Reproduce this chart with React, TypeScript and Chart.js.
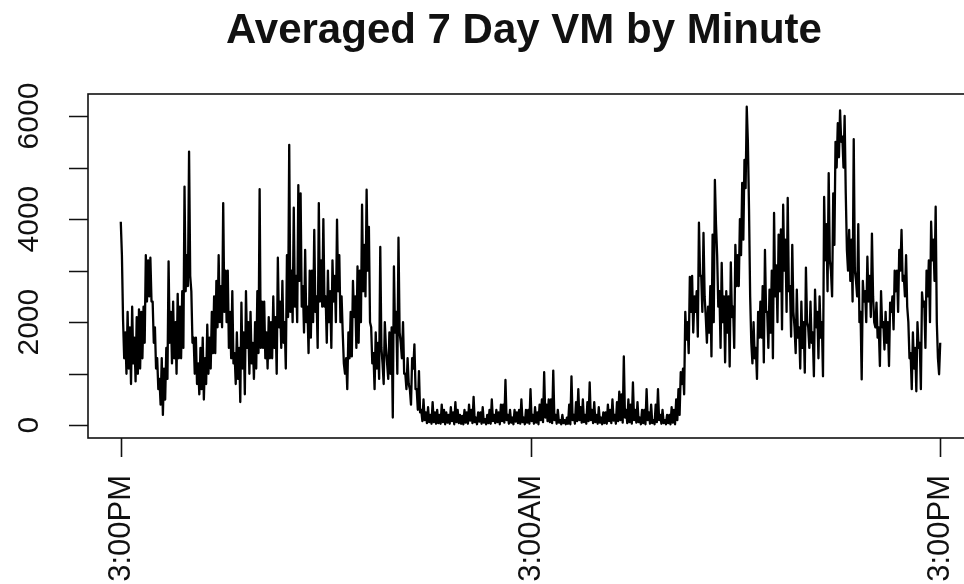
import React, { useEffect, useRef } from "react";
import { Chart, registerables } from "chart.js";

Chart.register(...registerables);

const TITLE = "Averaged 7 Day VM by Minute";
const STEP_MINUTES = 4;
const X_TICK_MINUTES = [0, 720, 1440];
const X_TICK_LABELS = ["3:00PM", "3:00AM", "3:00PM"];
const Y_TICKS = [0, 1000, 2000, 3000, 4000, 5000, 6000];
const Y_LABELS = [0, 2000, 4000, 6000];

// Averaged VM readings at minutes 0, 4, 8, ... (3:00PM to 3:00PM), upper side of the trace
const VM_A = [
  3950, 2050, 1800, 2200, 1900, 2300, 1700, 2100, 2250, 2200,
  2300, 3300, 3200, 3250, 2400, 1900, 1300, 900, 1300, 1100,
  1500, 3180, 2200, 2400, 2000, 2550, 2300, 2600, 4630, 3300,
  5310, 2600, 1700, 1700, 1200, 1500, 1700, 1300, 1950, 1700,
  2200, 2500, 2800, 3300, 2700, 4310, 3000, 3000, 2200, 2600,
  1400, 1800, 1500, 2380, 1800, 2600, 2000, 2200, 1600, 2000,
  2600, 4580, 2400, 2400, 1800, 2100, 2000, 2500, 2100, 3250,
  2400, 2800, 2000, 3300, 5440, 3000, 4220, 2900, 4660, 4500,
  2700, 3400, 2300, 3000, 3000, 3790, 2500, 4310, 3200, 4000,
  2500, 3000, 2600, 3200, 2900, 3990, 3300, 2500, 1200, 1300,
  1800, 2200, 2800, 2500, 3080, 3000, 4280, 3500, 4570, 3850,
  1900, 1400, 1800, 1600, 3460, 1200, 2000, 1200, 1800, 1900,
  3080, 2200, 3640, 1600, 2000, 1000, 1300, 700, 1300, 1570,
  700, 1050, 300, 500, 250, 350, 200, 450, 250, 300,
  200, 400, 300, 250, 200, 350, 250, 450, 300, 200,
  180, 300, 250, 400, 300, 550, 150, 250, 250, 350,
  120, 200, 300, 500, 200, 300, 250, 400, 400, 880,
  200, 300, 150, 300, 250, 300, 500, 150, 300, 300,
  700, 200, 350, 250, 400, 500, 1030, 400, 500, 500,
  1060, 200, 300, 100, 200, 100, 150, 400, 950, 200,
  450, 700, 350, 500, 200, 450, 830, 300, 450, 200,
  350, 150, 250, 250, 400, 300, 500, 200, 450, 650,
  600, 1335, 300, 500, 400, 830, 300, 450, 150, 300,
  300, 700, 250, 400, 100, 400, 700, 200, 300, 100,
  200, 200, 350, 300, 500, 700, 1030, 1100, 2200, 2000,
  2880, 2900, 2500, 2600, 3930, 2900, 3730, 2100, 2300, 2700,
  3700, 4760, 3300, 2600, 3150, 2500, 2600, 2500, 3160, 2300,
  3500, 3300, 4000, 4700, 5150, 6180, 4200, 1600, 2000, 1500,
  2200, 2400, 2700, 3400, 2200, 2630, 3000, 4120, 3100, 3700,
  3800, 4280, 3600, 4410, 2700, 3500, 1900, 2630, 1900, 2400,
  2000, 3060, 1900, 2400, 1800, 2630, 2200, 2500, 2000, 4430,
  3900, 4890, 3000, 4500, 5500, 5860, 6110, 5600, 6000, 3400,
  3790, 3600, 5550, 2800, 3900, 2200, 2800, 2600, 3270, 2900,
  3720, 2000, 2380, 1900, 2600, 2000, 2200, 2000, 2380, 2500,
  3000, 3000, 3400, 3790, 2900, 3300, 2000, 1400, 1800, 1500,
  2000, 1600, 2580, 2400, 3000, 3200, 3950, 3600, 4240, 1300,
  1600,
];
// Readings at minutes 2, 6, 10, ... , lower side of the trace
const VM_B = [
  3300, 1300, 1000, 1100, 800, 1200, 850, 1000, 1100, 1300,
  1600, 2400, 2500, 2400, 1600, 1100, 700, 400, 200, 500,
  900, 1600, 1200, 1300, 1000, 1300, 1300, 1500, 2600, 2700,
  2900, 1600, 1000, 800, 600, 700, 500, 800, 1000, 1100,
  1400, 1400, 1900, 2000, 1900, 2200, 2000, 1500, 1300, 1200,
  800, 900, 450, 1100, 600, 1500, 1000, 1200, 900, 1100,
  1400, 1500, 1500, 1300, 1100, 1300, 1300, 1500, 1000, 1900,
  1500, 1600, 1100, 2100, 2200, 2000, 2300, 2000, 2800, 2300,
  1800, 2000, 1400, 1700, 2000, 2200, 1500, 2400, 2300, 2300,
  1600, 2000, 1500, 2400, 2000, 2600, 2000, 1800, 1000, 700,
  1300, 1335, 2100, 1500, 1600, 2000, 2600, 2500, 3000, 2000,
  1200, 700, 1100, 900, 1500, 800, 1500, 900, 1000, 150,
  1800, 1000, 1800, 1300, 1000, 700, 800, 400, 1100, 700,
  300, 250, 80, 100, 40, 60, 30, 60, 30, 40,
  30, 60, 20, 50, 30, 80, 20, 60, 40, 30,
  20, 50, 30, 90, 40, 60, 20, 70, 30, 50,
  20, 40, 30, 80, 40, 60, 20, 80, 50, 100,
  30, 50, 20, 70, 40, 30, 60, 20, 50, 30,
  80, 30, 50, 20, 100, 60, 150, 80, 60, 40,
  100, 30, 50, 20, 40, 20, 30, 20, 100, 30,
  80, 100, 50, 60, 30, 80, 100, 40, 60, 30,
  50, 20, 40, 30, 80, 40, 90, 30, 80, 100,
  50, 150, 40, 60, 30, 100, 50, 60, 20, 40,
  20, 100, 30, 40, 20, 60, 100, 30, 40, 20,
  40, 20, 50, 20, 100, 200, 800, 600, 1660, 1400,
  2200, 1800, 2200, 1720, 2900, 2200, 2500, 1600, 1800, 1335,
  2000, 3900, 2300, 1500, 2000, 1220, 1800, 1140, 2100, 1500,
  2700, 2700, 3300, 3600, 4600, 5500, 2500, 1200, 1300, 900,
  1700, 1700, 1220, 2200, 1500, 1800, 1300, 2500, 2000, 2600,
  1860, 3000, 2200, 2600, 1720, 2200, 1400, 1700, 1100, 1500,
  1020, 2000, 1500, 1600, 950, 1900, 1300, 1700, 950, 3200,
  2600, 3200, 2500, 3500, 5000, 5200, 5500, 5000, 4500, 3000,
  2800, 2400, 3000, 2500, 2000, 890, 2400, 2000, 2400, 2100,
  2500, 1900, 1700, 1150, 1900, 1470, 1600, 1150, 2200, 1860,
  2600, 2200, 3000, 2800, 2500, 2300, 1300, 700, 1100, 660,
  1500, 700, 2300, 1500, 2500, 2000, 3200, 2800, 2000, 990,
];

const FONT = '"Liberation Sans", Arial, sans-serif';

const axesPlugin = {
  id: "rAxes",
  afterDraw(chart: any) {
    const { ctx, chartArea } = chart;
    const xs = chart.scales.x;
    const ys = chart.scales.y;
    ctx.save();
    ctx.strokeStyle = "#111";
    ctx.lineWidth = 1.6;
    ctx.strokeRect(chartArea.left, chartArea.top, chartArea.right - chartArea.left, chartArea.bottom - chartArea.top);
    ctx.fillStyle = "#111";
    ctx.beginPath();
    for (const v of Y_TICKS) {
      const y = Math.round(ys.getPixelForValue(v)) + 0.5;
      ctx.moveTo(chartArea.left - 19, y);
      ctx.lineTo(chartArea.left, y);
    }
    for (const m of X_TICK_MINUTES) {
      const x = Math.round(xs.getPixelForValue(m)) + 0.5;
      ctx.moveTo(x, chartArea.bottom);
      ctx.lineTo(x, chartArea.bottom + 19);
    }
    ctx.stroke();
    ctx.font = `30px ${FONT}`;
    ctx.textAlign = "center";
    ctx.textBaseline = "alphabetic";
    for (const v of Y_LABELS) {
      const y = ys.getPixelForValue(v);
      ctx.save();
      ctx.translate(38, y);
      ctx.rotate(-Math.PI / 2);
      ctx.fillText(String(v), 0, 0);
      ctx.restore();
    }
    ctx.font = `31px ${FONT}`;
    ctx.textAlign = "right";
    X_TICK_MINUTES.forEach((m, i) => {
      const x = xs.getPixelForValue(m);
      ctx.save();
      ctx.translate(x + 9, 475);
      ctx.rotate(-Math.PI / 2);
      ctx.fillText(X_TICK_LABELS[i], 0, 0);
      ctx.restore();
    });
    ctx.font = `bold 42px ${FONT}`;
    ctx.textAlign = "center";
    ctx.fillText(TITLE, 524, 43);
    ctx.restore();
  },
};

export default function App() {
  const ref = useRef<HTMLCanvasElement | null>(null);
  useEffect(() => {
    if (!ref.current) return;
    const points: { x: number; y: number }[] = [];
    VM_A.forEach((v, i) => {
      points.push({ x: i * STEP_MINUTES, y: v });
      if (i < VM_B.length) points.push({ x: i * STEP_MINUTES + STEP_MINUTES / 2, y: VM_B[i] });
    });
    const chart = new Chart(ref.current, {
      type: "line",
      data: {
        datasets: [
          {
            data: points,
            borderColor: "#000",
            borderWidth: 2.3,
            borderJoinStyle: "round",
            pointRadius: 0,
            tension: 0,
            fill: false,
          },
        ],
      },
      options: {
        responsive: false,
        animation: false,
        layout: { padding: { left: 88, top: 94, right: 27, bottom: 146 } },
        plugins: { legend: { display: false }, tooltip: { enabled: false }, title: { display: false } },
        scales: {
          x: { type: "linear", min: -57.6, max: 1497.6, display: false },
          y: { type: "linear", min: -247, max: 6427, display: false },
        },
      },
      plugins: [axesPlugin],
    });
    return () => chart.destroy();
  }, []);
  return (
    <div style={{ position: "fixed", left: 0, top: 0, width: 964, height: 584, overflow: "hidden", background: "#fff" }}>
      <canvas ref={ref} width={1000} height={584} style={{ display: "block" }} />
    </div>
  );
}
